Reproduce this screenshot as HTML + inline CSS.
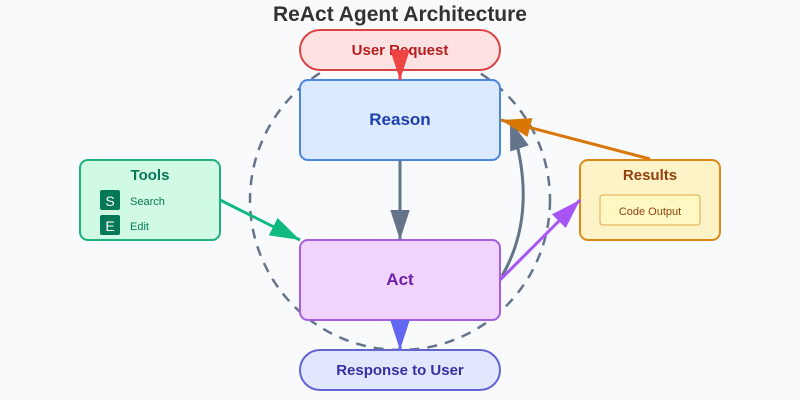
<!DOCTYPE html>
<html><head><meta charset="utf-8"><style>
body{margin:0;background:#f8fafc}
svg{display:block;font-family:"Liberation Sans",Arial,sans-serif}
</style></head><body>
<svg width="800" height="400" viewBox="0 0 800 400">
<rect width="800" height="400" fill="#f8fafc"/>
<defs>
<marker id="mr" viewBox="0 0 10 10" refX="10" refY="5" markerWidth="10" markerHeight="6.5" preserveAspectRatio="none" orient="auto"><path d="M0,0L10,5L0,10z" fill="#ef4444"/></marker>
<marker id="mg" viewBox="0 0 10 10" refX="10" refY="5" markerWidth="10" markerHeight="6.5" preserveAspectRatio="none" orient="auto"><path d="M0,0L10,5L0,10z" fill="#64748b"/></marker>
<marker id="mo" viewBox="0 0 10 10" refX="10" refY="5" markerWidth="10" markerHeight="6.5" preserveAspectRatio="none" orient="auto"><path d="M0,0L10,5L0,10z" fill="#d97706"/></marker>
<marker id="mgr" viewBox="0 0 10 10" refX="10" refY="5" markerWidth="10" markerHeight="6.5" preserveAspectRatio="none" orient="auto"><path d="M0,0L10,5L0,10z" fill="#10b981"/></marker>
<marker id="mp" viewBox="0 0 10 10" refX="10" refY="5" markerWidth="10" markerHeight="6.5" preserveAspectRatio="none" orient="auto"><path d="M0,0L10,5L0,10z" fill="#a855f7"/></marker>
<marker id="mb" viewBox="0 0 10 10" refX="10" refY="5" markerWidth="10" markerHeight="6.5" preserveAspectRatio="none" orient="auto"><path d="M0,0L10,5L0,10z" fill="#6366f1"/></marker>
</defs>
<text x="400" y="21" text-anchor="middle" font-size="21" font-weight="bold" fill="#333">ReAct Agent Architecture</text>
<circle cx="400" cy="200" r="150" fill="none" stroke="#64748b" stroke-width="2.5" stroke-dasharray="10,8"/>
<rect x="300" y="30" width="200" height="40" rx="20" fill="#fee2e2" stroke="#dc4444" stroke-width="2"/>
<text x="400" y="55" text-anchor="middle" font-size="15" font-weight="bold" fill="#b91c1c">User Request</text>
<rect x="300" y="80" width="200" height="80" rx="8" fill="#dbeafe" stroke="#4a86db" stroke-width="2"/>
<text x="400" y="125" text-anchor="middle" font-size="17" font-weight="bold" fill="#1e40af">Reason</text>
<rect x="300" y="240" width="200" height="80" rx="8" fill="#f0d4fe" stroke="#a45ee0" stroke-width="2"/>
<text x="400" y="285" text-anchor="middle" font-size="17" font-weight="bold" fill="#6b21a8">Act</text>
<rect x="300" y="350" width="200" height="40" rx="20" fill="#e0e7ff" stroke="#6366d1" stroke-width="2"/>
<text x="400" y="375" text-anchor="middle" font-size="15" font-weight="bold" fill="#3730a3">Response to User</text>
<rect x="80" y="160" width="140" height="80" rx="8" fill="#d1fae5" stroke="#20b080" stroke-width="2"/>
<text x="150" y="180" text-anchor="middle" font-size="15" font-weight="bold" fill="#047857">Tools</text>
<rect x="100" y="190" width="20" height="20" rx="2" fill="#047857"/>
<text x="110" y="206" text-anchor="middle" font-size="14" fill="#fff">S</text>
<text x="130" y="205" font-size="11" fill="#047857">Search</text>
<rect x="100" y="215" width="20" height="20" rx="2" fill="#047857"/>
<text x="110" y="231" text-anchor="middle" font-size="14" fill="#fff">E</text>
<text x="130" y="230" font-size="11" fill="#047857">Edit</text>
<rect x="580" y="160" width="140" height="80" rx="8" fill="#fef3c7" stroke="#d98a1a" stroke-width="2"/>
<text x="650" y="180" text-anchor="middle" font-size="15" font-weight="bold" fill="#92400e">Results</text>
<rect x="600" y="195" width="100" height="30" rx="3" fill="#fef9c3" stroke="#e0a94a" stroke-width="1"/>
<text x="650" y="215" text-anchor="middle" font-size="11" fill="#92400e">Code Output</text>
<line x1="400" y1="50" x2="400" y2="80" stroke="#ef4444" stroke-width="3" marker-end="url(#mr)"/>
<line x1="400" y1="160" x2="400" y2="240" stroke="#64748b" stroke-width="3" marker-end="url(#mg)"/>
<path d="M502,276 Q540,210 510,120" fill="none" stroke="#64748b" stroke-width="3" marker-end="url(#mg)"/>
<line x1="650" y1="159" x2="501" y2="120" stroke="#d97706" stroke-width="3" marker-end="url(#mo)"/>
<line x1="220" y1="200" x2="300" y2="240" stroke="#10b981" stroke-width="3" marker-end="url(#mgr)"/>
<line x1="500" y1="280" x2="580" y2="200" stroke="#a855f7" stroke-width="3" marker-end="url(#mp)"/>
<line x1="400" y1="320" x2="400" y2="350" stroke="#6366f1" stroke-width="3" marker-end="url(#mb)"/>
</svg>
</body></html>
